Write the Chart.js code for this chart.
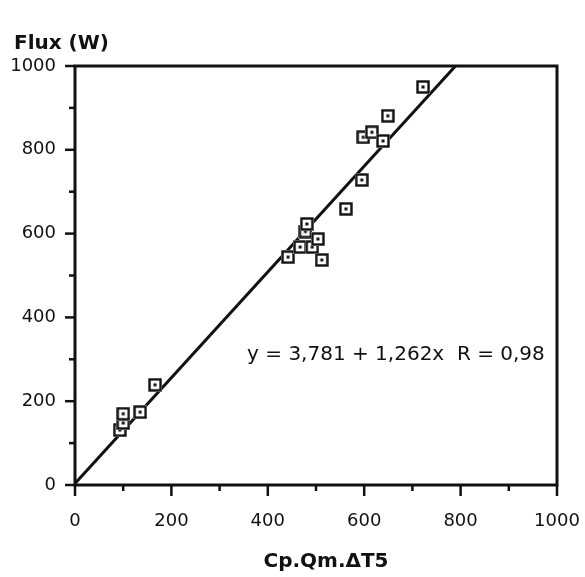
<!DOCTYPE html>
<html>
<head>
<meta charset="utf-8">
<script src="https://cdn.jsdelivr.net/npm/chart.js@4.4.1/dist/chart.umd.min.js"></script>
<style>
  html, body { margin: 0; padding: 0; background: #fff; }
</style>
</head>
<body>
<canvas id="chart" width="585" height="577"></canvas>
<script>
// valeurs
const fluxX = [93, 100, 100, 135, 166, 442, 467, 478, 481, 492, 504, 512, 562, 595, 598, 616, 639, 649, 722];
const fluxY = [131, 148, 170, 174, 239, 544, 568, 605, 623, 568, 587, 537, 659, 728, 830, 842, 821, 881, 950];
const xTicks = [0, 200, 400, 600, 800, 1000];
const yTicks = [0, 200, 400, 600, 800, 1000];
const intercept = 3.781;
const slope = 1.262;
const rValue = "0,98";
const equationText = "y = 3,781 + 1,262x  R = " + rValue;
const yTitle = "Flux (W)";
const xTitle = "Cp.Qm.\u0394T5";

const ink = "#111";
const fontFam = "'DejaVu Sans', sans-serif";

// marqueur carré avec un point au centre
function makeMarker() {
  const s = 14;
  const c = document.createElement("canvas");
  c.width = s;
  c.height = s;
  const ctx = c.getContext("2d");
  ctx.fillStyle = "#fff";
  ctx.fillRect(0, 0, s, s);
  ctx.strokeStyle = ink;
  ctx.lineWidth = 2.4;
  ctx.strokeRect(1.5, 1.5, s - 3, s - 3);
  ctx.fillStyle = ink;
  ctx.fillRect(s / 2 - 1.5, s / 2 - 1.5, 3, 3);
  return c;
}

const points = fluxX.map((x, i) => ({ x, y: fluxY[i] }));
const xEnd = (1000 - intercept) / slope;
const fitLine = [{ x: 0, y: intercept }, { x: xEnd, y: 1000 }];

const decorPlugin = {
  id: "decor",
  afterDraw(chart) {
    const { ctx, chartArea: a, scales } = chart;
    const sx = scales.x, sy = scales.y;
    ctx.save();
    ctx.strokeStyle = ink;
    ctx.lineWidth = 3;
    ctx.lineCap = "square";
    ctx.strokeRect(a.left, a.top, a.right - a.left, a.bottom - a.top);

    // graduations principales / secondaires
    ctx.lineWidth = 2.5;
    ctx.lineCap = "butt";
    for (let v = 0; v <= 1000; v += 100) {
      const major = v % 200 === 0;
      const px = sx.getPixelForValue(v);
      ctx.beginPath();
      ctx.moveTo(px, a.bottom);
      ctx.lineTo(px, a.bottom + (major ? 11 : 6));
      ctx.stroke();
      const py = sy.getPixelForValue(v);
      ctx.beginPath();
      ctx.moveTo(a.left, py);
      ctx.lineTo(a.left - (major ? 10 : 6), py);
      ctx.stroke();
    }

    ctx.fillStyle = ink;
    ctx.textBaseline = "middle";
    ctx.font = "bold 20px " + fontFam;
    ctx.textAlign = "left";
    ctx.fillText(yTitle, 14, 44);
    ctx.textAlign = "center";
    ctx.fillText(xTitle, (a.left + a.right) / 2 + 10, 562);

    ctx.font = "20px " + fontFam;
    ctx.textAlign = "left";
    ctx.fillText(equationText, sx.getPixelForValue(357), sy.getPixelForValue(310));
    ctx.restore();
  }
};

new Chart(document.getElementById("chart"), {
  type: "scatter",
  data: {
    datasets: [
      {
        label: "mesures",
        data: points,
        pointStyle: makeMarker(),
        pointRadius: 7,
        order: 0
      },
      {
        type: "line",
        label: "regression",
        data: fitLine,
        borderColor: ink,
        borderWidth: 3,
        pointRadius: 0,
        fill: false,
        order: 1
      }
    ]
  },
  options: {
    responsive: false,
    animation: false,
    layout: { padding: { left: 0, top: 66, right: 28, bottom: 0 } },
    plugins: {
      legend: { display: false },
      tooltip: { enabled: false }
    },
    scales: {
      x: {
        type: "linear",
        min: 0,
        max: 1000,
        afterFit: s => { s.height = 92; s.paddingLeft = 0; s.paddingRight = 0; },
        afterBuildTicks: s => { s.ticks = xTicks.map(v => ({ value: v })); },
        ticks: { color: ink, padding: 26, font: { family: fontFam, size: 18 }, callback: v => String(v) },
        grid: { display: false, drawTicks: false },
        border: { display: false }
      },
      y: {
        type: "linear",
        min: 0,
        max: 1000,
        afterFit: s => { s.width = 75; s.paddingTop = 0; s.paddingBottom = 0; },
        afterBuildTicks: s => { s.ticks = yTicks.map(v => ({ value: v })); },
        ticks: { color: ink, padding: 19, font: { family: fontFam, size: 18 }, callback: v => String(v) },
        grid: { display: false, drawTicks: false },
        border: { display: false }
      }
    }
  },
  plugins: [decorPlugin]
});
</script>
</body>
</html>
